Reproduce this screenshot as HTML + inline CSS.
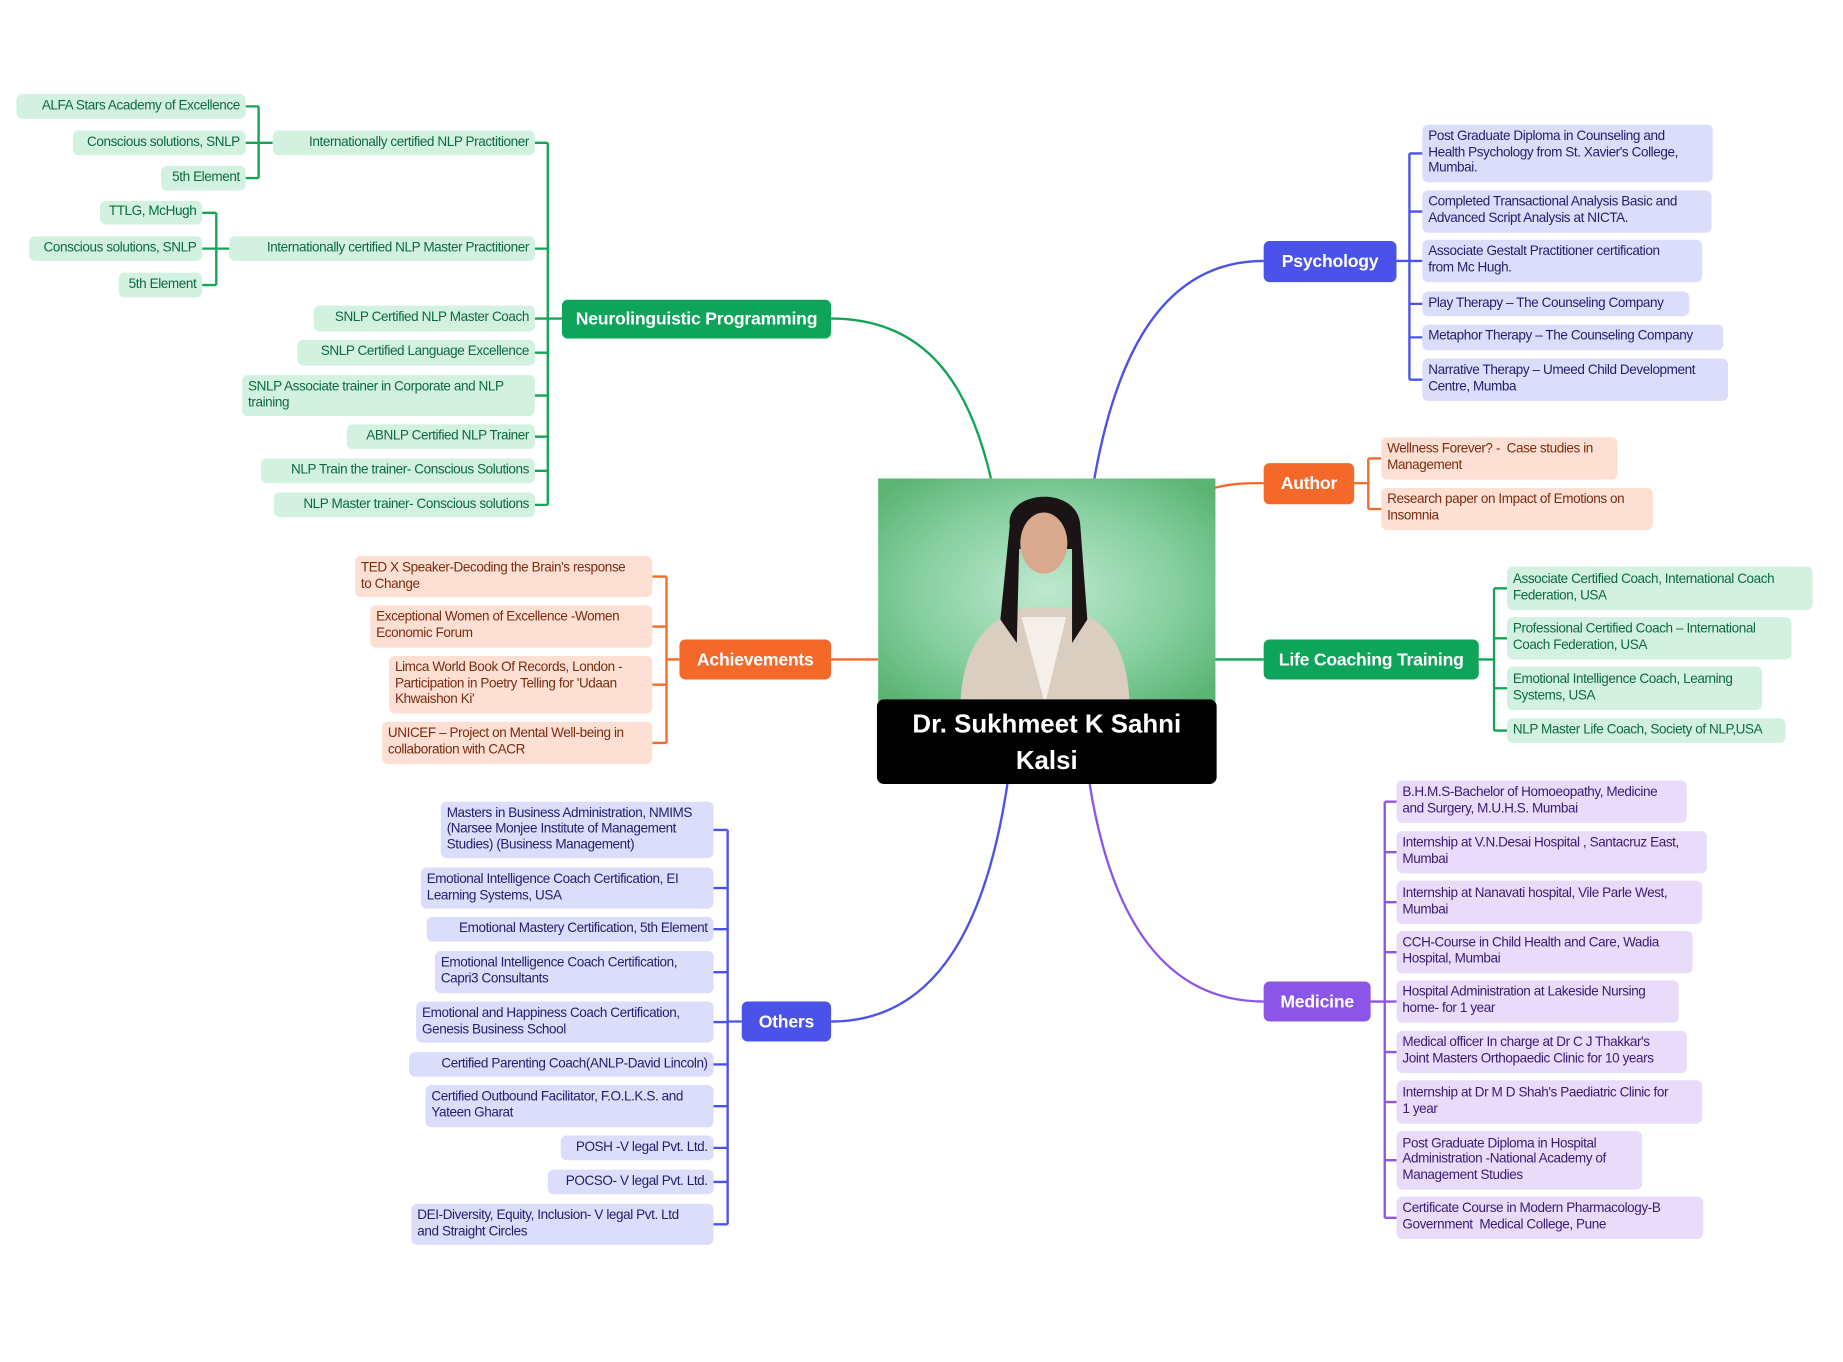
<!DOCTYPE html>
<html><head><meta charset="utf-8"><style>
html,body{margin:0;padding:0;background:#fff;width:1843px;height:1362px;overflow:hidden}
#c{position:absolute;left:0;top:0;width:1560px;height:1153px;transform:scale(1.1755);transform-origin:0 0;font-family:"Liberation Sans",sans-serif}
.n{position:absolute;box-sizing:border-box;border-radius:5px;font-size:11.5px;letter-spacing:-0.35px;line-height:13.6px;padding:0 5px;display:flex;align-items:center;white-space:nowrap}
.g{background:#d2f1e0;color:#0c6b3c}
.b{background:#dcdcfb;color:#1f1f6e}
.o{background:#fde0d3;color:#7a2b10}
.p{background:#e9dcfb;color:#3a1a72}
.r{justify-content:flex-end;text-align:left}
.m{position:absolute;box-sizing:border-box;border-radius:5px;color:#fff;font-size:15px;font-weight:bold;display:flex;align-items:center;justify-content:center;white-space:nowrap;letter-spacing:-0.2px}
</style></head><body><div id="c">
<svg width="1560" height="1153" style="position:absolute;left:0;top:0" fill="none" stroke-width="2">
<g stroke="#13a556">
<path d="M707 271 C790 271 825 330 843 407"/>
<path d="M466 121.5 V429.5 M455 121.5H466 M455 211.5H466 M455 271H478 M455 300H466 M455 336.5H466 M455 371.5H466 M455 400.5H466 M455 429.5H466"/>
<path d="M220 90.5V151.5 M209 90.5H220 M209 121.5H232 M209 151.5H220"/>
<path d="M184 181V242.5 M172 181H184 M172 211.5H195 M172 242.5H184"/>
<path d="M1033 561H1075 M1271 500.5V621.5 M1258 561H1271 M1271 500.5H1282 M1271 543H1282 M1271 585.5H1282 M1271 621.5H1282"/>
</g>
<g stroke="#4a52ea">
<path d="M1075 222 C990 222 950 300 931 407"/>
<path d="M1199 130.5V323 M1188 222H1199 M1199 130.5H1210 M1199 180H1210 M1199 222H1210 M1199 258.5H1210 M1199 287H1210 M1199 323H1210"/>
<path d="M707 869 C800 869 840 780 857 667"/>
<path d="M619 706V1041.5 M619 869H631 M607 706H619 M607 755.5H619 M607 790.5H619 M607 827H619 M607 869.5H619 M607 905.5H619 M607 941H619 M607 976.5H619 M607 1005.5H619 M607 1041.5H619"/>
</g>
<g stroke="#f46a2b">
<path d="M1033 415 C1050 411 1060 411 1075 411 M1164 390V433 M1152 411H1164 M1164 390H1175 M1164 433H1175"/>
<path d="M707 561H747 M567 490.5V632 M567 561H578 M555 490.5H567 M555 533H567 M555 582.5H567 M555 632H567"/>
</g>
<g stroke="#8b55e8">
<path d="M1075 852 C990 852 945 780 927 667"/>
<path d="M1178 682V1036 M1166 852H1178 M1178 682H1188 M1178 725H1188 M1178 767.5H1188 M1178 810H1188 M1178 852H1188 M1178 895H1188 M1178 937.5H1188 M1178 987H1188 M1178 1036H1188"/>
</g>
</svg>

<svg width="287" height="192" style="position:absolute;left:747px;top:407px">
<defs><radialGradient id="bg" cx="50%" cy="50%" r="65%"><stop offset="0" stop-color="#bfe9cf"/><stop offset="0.6" stop-color="#85cf9f"/><stop offset="1" stop-color="#5bb473"/></radialGradient></defs>
<rect width="287" height="192" fill="url(#bg)"/>
<path d="M70 192 C72 140 95 118 125 110 L160 110 C192 118 212 140 214 192Z" fill="#d9cec0"/>
<path d="M122 118 L142 192 L160 118Z" fill="#f4efe8"/>
<path d="M112 40 C108 10 170 5 172 40 L178 120 L165 140 L165 60 L120 60 L118 140 L104 120Z" fill="#1b1414"/>
<ellipse cx="141" cy="55" rx="20" ry="26" fill="#d9a98e"/>
<path d="M120 40 C125 22 160 22 163 42 L163 35 C160 15 122 15 118 38Z" fill="#1b1414"/>
</svg>
<div style="position:absolute;left:746px;top:595px;width:289px;height:72px;background:#000;border-radius:6px;color:#fff;font-weight:bold;font-size:22px;line-height:31px;text-align:center;padding-top:5px;box-sizing:border-box">Dr. Sukhmeet K Sahni<br>Kalsi</div>

<div class="m" style="left:478px;top:255px;width:229px;height:33px;background:#0ea45a">Neurolinguistic Programming</div>
<div class="n g r" style="left:232px;top:111px;width:223px;height:21px">Internationally certified NLP Practitioner</div>
<div class="n g r" style="left:14px;top:80px;width:195px;height:21px">ALFA Stars Academy of Excellence</div>
<div class="n g r" style="left:62px;top:111px;width:147px;height:21px">Conscious solutions, SNLP</div>
<div class="n g r" style="left:137px;top:141px;width:72px;height:21px">5th Element</div>
<div class="n g r" style="left:85px;top:171px;width:87px;height:20px">TTLG, McHugh</div>
<div class="n g r" style="left:25px;top:201px;width:147px;height:21px">Conscious solutions, SNLP</div>
<div class="n g r" style="left:101px;top:232px;width:71px;height:21px">5th Element</div>
<div class="n g r" style="left:195px;top:201px;width:260px;height:21px">Internationally certified NLP Master Practitioner</div>
<div class="n g r" style="left:267px;top:260px;width:188px;height:22px">SNLP Certified NLP Master Coach</div>
<div class="n g r" style="left:253px;top:289px;width:202px;height:22px">SNLP Certified Language Excellence</div>
<div class="n g" style="left:206px;top:319px;width:249px;height:35px">SNLP Associate trainer in Corporate and NLP<br>training</div>
<div class="n g r" style="left:295px;top:361px;width:160px;height:21px">ABNLP Certified NLP Trainer</div>
<div class="n g r" style="left:222px;top:390px;width:233px;height:21px">NLP Train the trainer- Conscious Solutions</div>
<div class="n g r" style="left:233px;top:419px;width:222px;height:21px">NLP Master trainer- Conscious solutions</div>

<div class="m" style="left:1075px;top:205px;width:113px;height:35px;background:#4a52ea">Psychology</div>
<div class="n b" style="left:1210px;top:106px;width:247px;height:49px">Post Graduate Diploma in Counseling and<br>Health Psychology from St. Xavier's College,<br>Mumbai.</div>
<div class="n b" style="left:1210px;top:162px;width:246px;height:36px">Completed Transactional Analysis Basic and<br>Advanced Script Analysis at NICTA.</div>
<div class="n b" style="left:1210px;top:204px;width:238px;height:36px">Associate Gestalt Practitioner certification<br>from Mc Hugh.</div>
<div class="n b" style="left:1210px;top:248px;width:227px;height:21px">Play Therapy – The Counseling Company</div>
<div class="n b" style="left:1210px;top:276px;width:256px;height:22px">Metaphor Therapy – The Counseling Company</div>
<div class="n b" style="left:1210px;top:305px;width:260px;height:36px">Narrative Therapy – Umeed Child Development<br>Centre, Mumba</div>

<div class="m" style="left:1075px;top:394px;width:77px;height:35px;background:#f4692a">Author</div>
<div class="n o" style="left:1175px;top:372px;width:201px;height:36px">Wellness Forever? -&nbsp; Case studies in<br>Management</div>
<div class="n o" style="left:1175px;top:415px;width:231px;height:36px">Research paper on Impact of Emotions on<br>Insomnia</div>

<div class="m" style="left:1075px;top:544px;width:183px;height:34px;background:#0ea45a">Life Coaching Training</div>
<div class="n g" style="left:1282px;top:482px;width:260px;height:37px">Associate Certified Coach, International Coach<br>Federation, USA</div>
<div class="n g" style="left:1282px;top:525px;width:242px;height:36px">Professional Certified Coach – International<br>Coach Federation, USA</div>
<div class="n g" style="left:1282px;top:567px;width:217px;height:37px">Emotional Intelligence Coach, Learning<br>Systems, USA</div>
<div class="n g" style="left:1282px;top:611px;width:237px;height:21px">NLP Master Life Coach, Society of NLP,USA</div>

<div class="m" style="left:578px;top:544px;width:129px;height:34px;background:#f4692a">Achievements</div>
<div class="n o" style="left:302px;top:473px;width:253px;height:35px">TED X Speaker-Decoding the Brain's response<br>to Change</div>
<div class="n o" style="left:315px;top:515px;width:240px;height:36px">Exceptional Women of Excellence -Women<br>Economic Forum</div>
<div class="n o" style="left:331px;top:558px;width:224px;height:49px">Limca World Book Of Records, London -<br>Participation in Poetry Telling for 'Udaan<br>Khwaishon Ki'</div>
<div class="n o" style="left:325px;top:614px;width:230px;height:36px">UNICEF – Project on Mental Well-being in<br>collaboration with CACR</div>

<div class="m" style="left:631px;top:852px;width:76px;height:34px;background:#4a52ea">Others</div>
<div class="n b" style="left:375px;top:682px;width:232px;height:48px">Masters in Business Administration, NMIMS<br>(Narsee Monjee Institute of Management<br>Studies) (Business Management)</div>
<div class="n b" style="left:358px;top:738px;width:249px;height:35px">Emotional Intelligence Coach Certification, EI<br>Learning Systems, USA</div>
<div class="n b r" style="left:363px;top:780px;width:244px;height:21px">Emotional Mastery Certification, 5th Element</div>
<div class="n b" style="left:370px;top:809px;width:237px;height:36px">Emotional Intelligence Coach Certification,<br>Capri3 Consultants</div>
<div class="n b" style="left:354px;top:852px;width:253px;height:35px">Emotional and Happiness Coach Certification,<br>Genesis Business School</div>
<div class="n b r" style="left:348px;top:895px;width:259px;height:21px">Certified Parenting Coach(ANLP-David Lincoln)</div>
<div class="n b" style="left:362px;top:923px;width:245px;height:36px">Certified Outbound Facilitator, F.O.L.K.S. and<br>Yateen Gharat</div>
<div class="n b r" style="left:477px;top:966px;width:130px;height:21px">POSH -V legal Pvt. Ltd.</div>
<div class="n b r" style="left:466px;top:995px;width:141px;height:21px">POCSO- V legal Pvt. Ltd.</div>
<div class="n b" style="left:350px;top:1024px;width:257px;height:35px">DEI-Diversity, Equity, Inclusion- V legal Pvt. Ltd<br>and Straight Circles</div>

<div class="m" style="left:1075px;top:835px;width:91px;height:34px;background:#8b55e8">Medicine</div>
<div class="n p" style="left:1188px;top:664px;width:247px;height:36px">B.H.M.S-Bachelor of Homoeopathy, Medicine<br>and Surgery, M.U.H.S. Mumbai</div>
<div class="n p" style="left:1188px;top:707px;width:264px;height:36px">Internship at V.N.Desai Hospital , Santacruz East,<br>Mumbai</div>
<div class="n p" style="left:1188px;top:749px;width:260px;height:37px">Internship at Nanavati hospital, Vile Parle West,<br>Mumbai</div>
<div class="n p" style="left:1188px;top:792px;width:252px;height:36px">CCH-Course in Child Health and Care, Wadia<br>Hospital, Mumbai</div>
<div class="n p" style="left:1188px;top:834px;width:240px;height:36px">Hospital Administration at Lakeside Nursing<br>home- for 1 year</div>
<div class="n p" style="left:1188px;top:877px;width:247px;height:36px">Medical officer In charge at Dr C J Thakkar's<br>Joint Masters Orthopaedic Clinic for 10 years</div>
<div class="n p" style="left:1188px;top:919px;width:260px;height:37px">Internship at Dr M D Shah's Paediatric Clinic for<br>1 year</div>
<div class="n p" style="left:1188px;top:962px;width:209px;height:50px">Post Graduate Diploma in Hospital<br>Administration -National Academy of<br>Management Studies</div>
<div class="n p" style="left:1188px;top:1018px;width:261px;height:36px">Certificate Course in Modern Pharmacology-B<br>Government&nbsp; Medical College, Pune</div>
</div></body></html>
